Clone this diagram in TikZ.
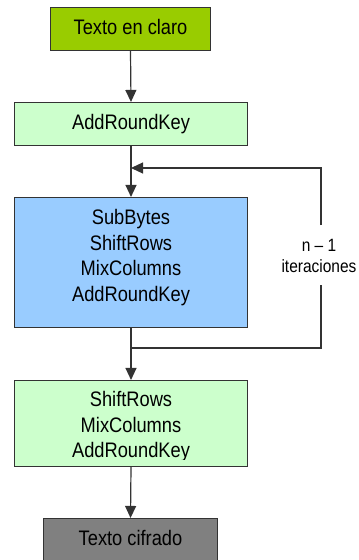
\documentclass[tikz,border=0pt]{standalone}
\usepackage{fontspec}
\setmainfont{Liberation Sans}[FakeStretch=0.87]
\usetikzlibrary{arrows.meta}
\definecolor{cclaro}{HTML}{99CC00}
\definecolor{cverde}{HTML}{CCFFCC}
\definecolor{cazul}{HTML}{99CCFF}
\definecolor{cgris}{HTML}{808080}
\definecolor{clinea}{HTML}{333333}
\tikzset{
  box/.style={draw=clinea, line width=1.1pt, inner sep=0pt, rectangle},
  wide/.style={box, minimum width=233pt},
  oneline/.style={font=\fontsize{21}{25.3}\selectfont, text height=15.3pt, text depth=5.3pt},
  multi/.style={font=\fontsize{21}{25.5}\selectfont, align=center, inner sep=0pt},
  small/.style={font=\fontsize{17.8}{20.7}\selectfont, align=center, inner sep=0pt},
  conn/.style={draw=clinea, line width=1.2pt},
  arr/.style={conn, -{Triangle[length=12pt,width=11pt]}},
}
\begin{document}
\begin{tikzpicture}[x=1pt,y=-1pt]
\clip (0,0) rectangle (359,560);
\fill[white] (0,0) rectangle (359,560);
% boxes
\node[box, fill=cclaro, minimum width=160pt, minimum height=43pt, oneline] (claro) at (130.5,29) {Texto en claro};
\node[wide, fill=cverde, minimum height=43pt, oneline] (ark) at (131,124) {AddRoundKey};
\node[wide, fill=cazul, minimum height=130pt] (ronda) at (131,262.5) {};
\node[multi] (rondatxt) at (131,257.6) {SubBytes\\ShiftRows\\MixColumns\\AddRoundKey};
\node[wide, fill=cverde, minimum height=86pt] (final) at (131,423.5) {};
\begin{scope}
\clip (14,380) rectangle (248,459.5);
\node[multi] (finaltxt) at (131,426.9) {ShiftRows\\MixColumns\\AddRoundKey};
\end{scope}
\node[box, fill=cgris, minimum width=174pt, minimum height=43pt, oneline] (cifrado) at (130.5,540) {Texto cifrado};
% loop label
\node[small] (iter) at (319,256) {n – 1\\iteraciones};
% coordinates
\coordinate (j1) at (131,168);
\coordinate (j2) at (131,348);
\coordinate (tr) at (321,168);
\coordinate (br) at (321,348);
\coordinate (gt) at (321,225);
\coordinate (gb) at (321,285);
% connectors
\draw[arr] (claro.south) -- (ark.north);
\draw[arr] (ark.south) -- (ronda.north);
\draw[arr] (ronda.south) -- (final.north);
\draw[arr] (final.south) -- (cifrado.north);
\draw[conn] (j2) -- (br) -- (gb);
\draw[arr] (gt) -- (tr) -- (j1);
\end{tikzpicture}
\end{document}
